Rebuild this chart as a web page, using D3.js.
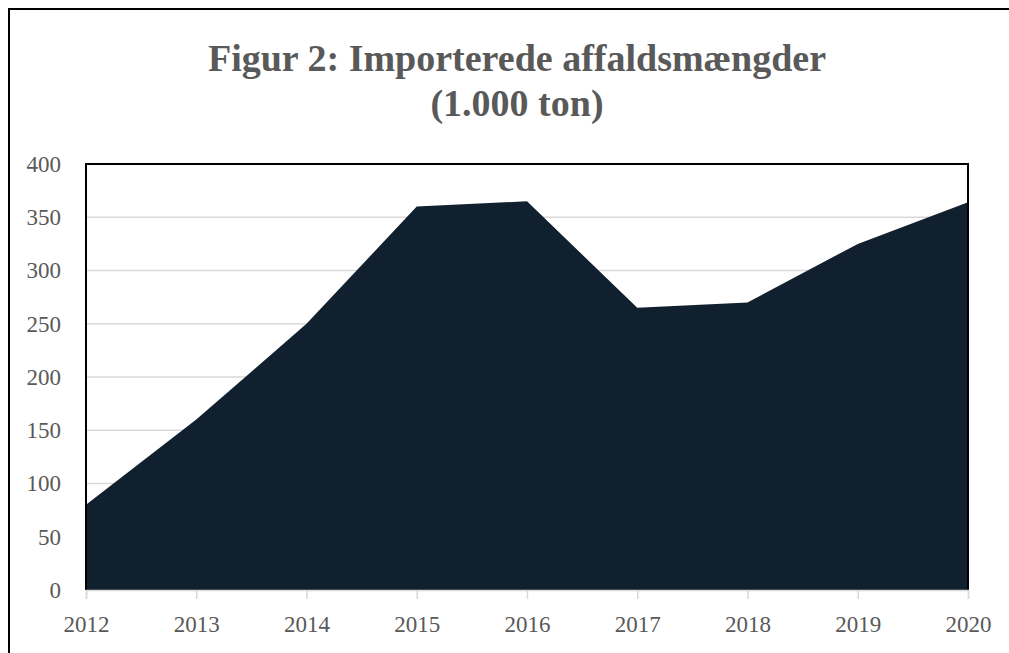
<!DOCTYPE html>
<html>
<head>
<meta charset="utf-8">
<script src="https://cdn.jsdelivr.net/npm/d3@7"></script>
<style>
  body { margin: 0; background: #fff; }
  svg text { font-family: "Palatino Linotype", "Book Antiqua", Palatino, "Liberation Serif", serif; fill: #595959; }
</style>
</head>
<body>
<div id="chart"></div>
<script>
const years = [2012, 2013, 2014, 2015, 2016, 2017, 2018, 2019, 2020]
const tons = [80, 160, 250, 360, 365, 265, 270, 325, 364]
const yTicks = [0, 50, 100, 150, 200, 250, 300, 350, 400]
const titleLines = ['Figur 2: Importerede affaldsmængder', '(1.000 ton)']

const width = 1009
const height = 653
const margin = { top: 164, right: 41, bottom: 63, left: 86 }

const svg = d3.select('#chart').append('svg')
  .attr('width', width)
  .attr('height', height)

// outer frame, runs off the right and bottom edges
svg.append('rect')
  .attr('x', 9).attr('y', 9)
  .attr('width', width + 10).attr('height', height)
  .attr('fill', 'none')
  .attr('stroke', '#000')
  .attr('stroke-width', 2)

const x = d3.scalePoint()
  .domain(years)
  .range([margin.left, width - margin.right])

const y = d3.scaleLinear()
  .domain([0, 400])
  .range([height - margin.bottom, margin.top])

// gridlines
svg.append('g')
  .selectAll('line')
  .data(yTicks.filter(d => d > 0 && d < 400))
  .join('line')
  .attr('x1', margin.left).attr('x2', width - margin.right)
  .attr('y1', d => y(d)).attr('y2', d => y(d))
  .attr('stroke', '#d9d9d9')
  .attr('stroke-width', 1.5)

const area = d3.area()
  .x((d, i) => x(years[i]))
  .y0(y(0))
  .y1(d => y(d))

svg.append('path')
  .datum(tons)
  .attr('d', area)
  .attr('fill', '#10202e')

// plot box (top, left, right in black)
svg.append('path')
  .attr('d', `M${margin.left},${y(0)}V${y(400)}H${width - margin.right}V${y(0)}`)
  .attr('fill', 'none')
  .attr('stroke', '#000')
  .attr('stroke-width', 2)

// x axis
const xAxis = svg.append('g')
  .attr('transform', `translate(0,${y(0)})`)
  .call(d3.axisBottom(x).tickSize(9).tickPadding(17))
xAxis.select('.domain').attr('stroke', '#d9d9d9').attr('stroke-width', 1.5)
xAxis.selectAll('.tick line').attr('stroke', '#d9d9d9').attr('stroke-width', 1.5)

// y axis labels
const yAxis = svg.append('g')
  .attr('transform', `translate(${margin.left},0)`)
  .call(d3.axisLeft(y).tickValues(yTicks).tickSize(0).tickPadding(25))
yAxis.select('.domain').remove()

svg.selectAll('.tick text')
  .attr('font-size', 23)
  .attr('fill', '#595959')

// title
svg.append('g')
  .selectAll('text')
  .data(titleLines)
  .join('text')
  .attr('x', 517)
  .attr('y', (d, i) => 71 + i * 45)
  .attr('text-anchor', 'middle')
  .attr('font-size', 38)
  .attr('font-weight', 'bold')
  .text(d => d)
</script>
</body>
</html>
